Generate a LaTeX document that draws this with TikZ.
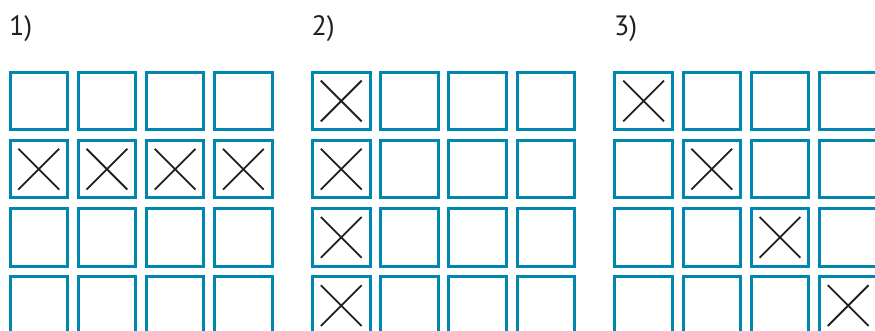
\documentclass[tikz,border=0pt]{standalone}
\usepackage{fontspec}
\setmainfont{PT Sans}
\usetikzlibrary{shapes.misc}

\definecolor{gridblue}{RGB}{0,135,175}
\definecolor{markgray}{RGB}{35,31,32}

\tikzset{
  cell/.style={draw=gridblue, line width=3pt, minimum size=57.5pt, inner sep=0pt},
  crossmark/.style={cross out, draw=markgray, line width=1.8pt, minimum size=39pt, inner sep=0pt},
  panellabel/.style={anchor=base west, inner sep=0pt, font=\fontsize{28}{30}\selectfont, text=markgray}
}

\begin{document}
\begin{tikzpicture}[x=1pt, y=-1pt]
  \useasboundingbox (0,0) rectangle (875,330);
  % --- panel 1: zweite Zeile angekreuzt ---
  \begin{scope}
    \node[panellabel] (lab1) at (9,35) {1)};
    \foreach \r in {1,...,4}
      \foreach \c in {1,...,4}
        \node[cell] (a-\r-\c) at ({38.75+68.2*(\c-1)},{101+68.2*(\r-1)}) {};
    \foreach \c in {1,...,4} \node[crossmark] (xa-\c) at (a-2-\c) {};
  \end{scope}
  % --- panel 2: erste Spalte angekreuzt ---
  \begin{scope}[xshift=302.5pt]
    \node[panellabel] (lab2) at (9,35) {2)};
    \foreach \r in {1,...,4}
      \foreach \c in {1,...,4}
        \node[cell] (b-\r-\c) at ({38.75+68.2*(\c-1)},{101+68.2*(\r-1)}) {};
    \foreach \r in {1,...,4} \node[crossmark] (xb-\r) at (b-\r-1) {};
  \end{scope}
  % --- panel 3: Diagonale angekreuzt ---
  \begin{scope}[xshift=604.8pt]
    \node[panellabel] (lab3) at (9,35) {3)};
    \foreach \r in {1,...,4}
      \foreach \c in {1,...,4}
        \node[cell] (c-\r-\c) at ({38.75+68.2*(\c-1)},{101+68.2*(\r-1)}) {};
    \foreach \r in {1,...,4} \node[crossmark] (xc-\r) at (c-\r-\r) {};
  \end{scope}
\end{tikzpicture}
\end{document}
